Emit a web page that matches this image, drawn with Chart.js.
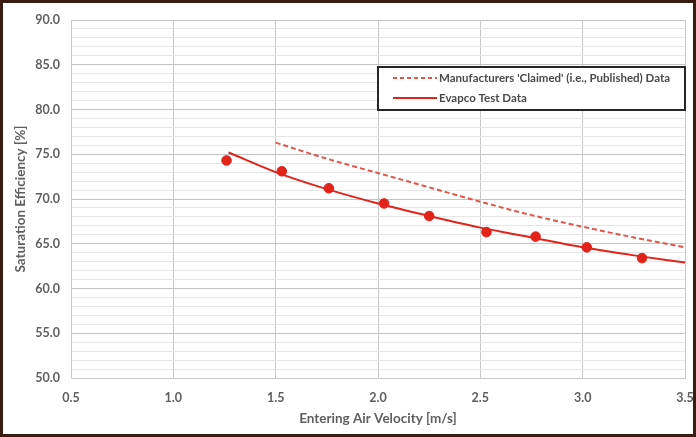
<!DOCTYPE html>
<html>
<head>
<meta charset="utf-8">
<script src="https://cdn.jsdelivr.net/npm/chart.js@4/dist/chart.umd.min.js"></script>
<style>
  html, body { margin: 0; padding: 0; background: #fff; }
  #frame {
    width: 696px; height: 437px; box-sizing: border-box;
    border: 3px solid #3b1c12; position: relative; background: #fff;
  }
  #frame canvas { position: absolute; left: 0; top: 0; }
</style>
</head>
<body>
<div id="frame"><canvas id="chart" width="690" height="431"></canvas></div>
<script>
// Evapco measured points
const testX = [1.26, 1.53, 1.76, 2.03, 2.25, 2.53, 2.77, 3.02, 3.29];
const testY = [74.3, 73.1, 71.2, 69.5, 68.1, 66.3, 65.8, 64.6, 63.4];

// Evapco trend line
const fitX = [1.27, 1.5, 1.75, 2.0, 2.25, 2.5, 2.75, 3.0, 3.25, 3.5];
const fitY = [75.2, 73.0, 71.1, 69.5, 68.1, 66.8, 65.7, 64.6, 63.7, 62.9];

// Manufacturers 'claimed' curve
const claimX = [1.5, 1.75, 2.0, 2.25, 2.5, 2.75, 3.0, 3.25, 3.5];
const claimY = [76.3, 74.5, 72.9, 71.3, 69.7, 68.2, 66.9, 65.7, 64.6];

const legendLabels = ["Manufacturers 'Claimed' (i.e., Published) Data", 'Evapco Test Data'];
const xTitle = 'Entering Air Velocity [m/s]';
const yTitle = 'Saturation Efficiency [%]';

const RED = '#e2231a';
const RED_DASH = '#e0574a';
const FONT = 'Lato, "Open Sans", sans-serif';
const TEXT = '#5f5f5f';

const pts = (xs, ys) => xs.map((x, i) => ({ x: x, y: ys[i] }));

// legend box drawn inside the plot
const legendBox = {
  id: 'legendBox',
  afterDraw(chart) {
    const c = chart.ctx;
    const x0 = 375, y0 = 64, w = 307, h = 43;
    c.save();
    c.fillStyle = '#fff';
    c.fillRect(x0, y0, w, h);
    c.strokeStyle = '#262626';
    c.lineWidth = 2;
    c.strokeRect(x0, y0, w, h);
    c.lineWidth = 2;
    // dashed sample
    c.strokeStyle = RED_DASH;
    c.setLineDash([4, 3]);
    c.beginPath(); c.moveTo(390, 75); c.lineTo(434, 75); c.stroke();
    c.setLineDash([]);
    c.strokeStyle = RED;
    c.beginPath(); c.moveTo(390, 95); c.lineTo(434, 95); c.stroke();
    c.fillStyle = '#4a4a4a';
    c.font = 'bold 11.5px ' + FONT;
    c.textBaseline = 'middle';
    c.fillText(legendLabels[0], 436, 75);
    c.fillText(legendLabels[1], 436, 95);
    c.restore();
  }
};

new Chart(document.getElementById('chart'), {
  type: 'scatter',
  data: {
    datasets: [
      {
        label: legendLabels[0],
        data: pts(claimX, claimY),
        showLine: true,
        borderColor: RED_DASH,
        borderWidth: 2,
        borderDash: [5, 3],
        pointRadius: 0,
        cubicInterpolationMode: 'monotone'
      },
      {
        label: legendLabels[1],
        data: pts(fitX, fitY),
        showLine: true,
        borderColor: RED,
        borderWidth: 2,
        pointRadius: 0,
        cubicInterpolationMode: 'monotone'
      },
      {
        label: 'points',
        data: pts(testX, testY),
        showLine: false,
        backgroundColor: RED,
        borderColor: RED,
        pointRadius: 4.8
      }
    ]
  },
  options: {
    responsive: false,
    animation: false,
    layout: { padding: { left: 0, top: 17, right: 8, bottom: 0 } },
    plugins: { legend: { display: false }, tooltip: { enabled: false } },
    scales: {
      x: {
        type: 'linear',
        min: 0.5, max: 3.5,
        afterFit(s) { s.height = 56; s.paddingRight = 0; s.paddingLeft = 0; },
        ticks: {
          stepSize: 0.5,
          color: TEXT,
          padding: 12,
          font: { family: FONT, size: 12.5, weight: 'bold' },
          callback: v => v.toFixed(1)
        },
        grid: { color: '#c9c9c9', lineWidth: 1, drawTicks: false },
        border: { color: '#c9c9c9' },
        title: {
          display: true, text: xTitle, color: TEXT,
          font: { family: FONT, size: 13.5, weight: 'bold' },
          padding: { top: 4, bottom: 7 }
        }
      },
      y: {
        min: 50, max: 90,
        afterFit(s) { s.width = 68; s.paddingTop = 0; s.paddingBottom = 0; },
        ticks: {
          stepSize: 1,
          autoSkip: false,
          color: TEXT,
          padding: 11,
          font: { family: FONT, size: 12.5, weight: 'bold' },
          callback: v => (v % 5 === 0 ? v.toFixed(1) : '')
        },
        grid: {
          drawTicks: false,
          color: ctx => (ctx.tick && ctx.tick.value % 5 === 0 ? '#c4c4c4' : '#e6e6e6'),
          lineWidth: 1
        },
        border: { color: '#c9c9c9' },
        title: {
          display: true, text: yTitle, color: TEXT,
          font: { family: FONT, size: 13.5, weight: 'bold' },
          padding: { top: 10, bottom: 0 }
        }
      }
    }
  },
  plugins: [legendBox]
});
</script>
</body>
</html>
